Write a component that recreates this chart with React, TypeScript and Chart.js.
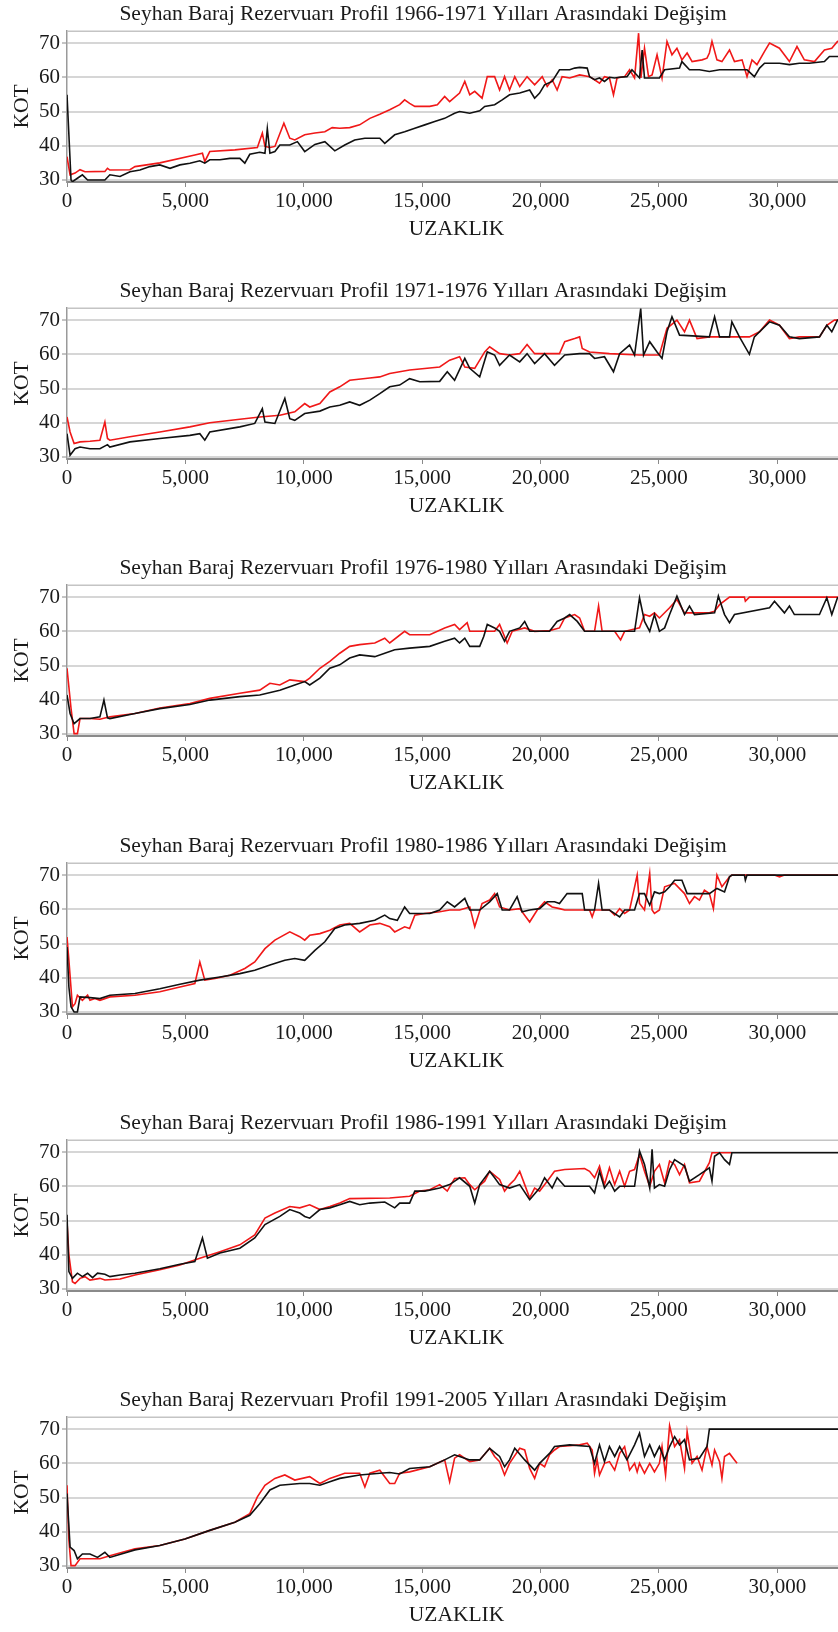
import React, { useEffect, useRef } from "react";
import { Chart, registerables } from "chart.js";

Chart.register(...registerables);

const panelTitles = [
  "Seyhan Baraj Rezervuarı Profil 1966-1971 Yılları Arasındaki Değişim",
  "Seyhan Baraj Rezervuarı Profil 1971-1976 Yılları Arasındaki Değişim",
  "Seyhan Baraj Rezervuarı Profil 1976-1980 Yılları Arasındaki Değişim",
  "Seyhan Baraj Rezervuarı Profil 1980-1986 Yılları Arasındaki Değişim",
  "Seyhan Baraj Rezervuarı Profil 1986-1991 Yılları Arasındaki Değişim",
  "Seyhan Baraj Rezervuarı Profil 1991-2005 Yılları Arasındaki Değişim",
];
const xAxisTitle = "UZAKLIK";
const yAxisTitle = "KOT";
const xTickValues = [0, 5000, 10000, 15000, 20000, 25000, 30000];
const yTickValues = [30, 40, 50, 60, 70];
const xMin = 0;
const xMax = 32900;
const yMin = 29.4;
const yMax = 73.6;

// 1966-1971
const red1 = [[0,36.8],[130,31.5],[340,32],[550,33],[760,32.4],[1600,32.5],[1710,33.4],[1810,32.9],[2660,33],[2870,33.9],[3920,35],[5400,37.3],[5720,37.8],[5820,35.4],[6030,38.3],[7090,38.8],[8040,39.5],[8250,43.7],[8360,39.8],[8570,39.5],[8780,39.8],[9160,46.6],[9410,42.2],[9620,41.7],[10040,43.2],[10470,43.7],[10890,44.1],[11200,45.3],[11520,45.1],[11940,45.3],[12360,46.1],[12790,48],[13210,49.2],[13630,50.5],[14050,52],[14260,53.4],[14470,52.4],[14690,51.5],[15320,51.5],[15640,52],[15950,54.4],[16160,52.9],[16580,55.4],[16800,58.8],[17010,54.9],[17220,55.9],[17530,53.9],[17750,60.2],[18060,60.2],[18270,56.3],[18480,60.2],[18690,56.3],[18910,60.2],[19120,57.3],[19430,60.2],[19750,57.8],[20070,60.2],[20280,57.3],[20490,59.3],[20700,56.3],[20910,60.2],[21230,59.8],[21650,60.7],[22070,60.2],[22280,59.3],[22490,58.3],[22700,60.2],[22910,59.8],[23080,54.9],[23230,59.8],[23550,60.2],[23760,62.2],[23970,59.8],[24140,72.9],[24240,59.8],[24390,68.5],[24560,60.2],[24710,60.7],[24920,66.6],[25130,59.8],[25340,70.5],[25550,66.6],[25760,68.5],[25970,65.1],[26190,67.1],[26400,64.6],[26820,65.1],[27030,65.6],[27130,67.1],[27240,70.5],[27450,65.1],[27660,64.6],[27980,68],[28190,64.6],[28510,65.1],[28720,60.2],[28930,65.1],[29140,63.7],[29460,67.6],[29670,70],[30090,68.5],[30510,64.6],[30830,69],[31140,65.1],[31570,64.6],[31990,68],[32300,68.5],[32540,70.5],[33000,69.5]];
const black1 = [[0,54.9],[170,30],[230,29.5],[440,30.5],[650,31.5],[870,30],[1600,30],[1810,31.5],[2240,31],[2660,32.4],[3080,32.9],[3500,33.9],[3920,34.4],[4350,33.4],[4770,34.4],[5190,34.9],[5610,35.6],[5820,34.9],[6030,35.9],[6460,35.9],[6880,36.3],[7300,36.3],[7510,34.9],[7720,37.5],[8140,38.1],[8360,37.8],[8460,45],[8570,37.8],[8780,38.3],[8990,40.2],[9410,40.2],[9730,41.2],[10040,38.3],[10470,40.4],[10890,41.2],[11310,38.5],[11730,40.2],[12150,41.7],[12580,42.2],[13210,42.2],[13420,40.7],[13840,43.2],[14260,44.1],[14690,45.1],[15110,46.1],[15530,47.1],[15950,48],[16370,49.5],[16580,50],[17010,49.5],[17430,50.2],[17640,51.5],[18060,52],[18380,53.4],[18690,54.9],[19120,55.4],[19540,56.3],[19750,53.9],[19960,55.4],[20170,57.8],[20490,58.8],[20800,62.2],[21230,62.2],[21440,62.7],[21650,62.9],[21970,62.7],[22070,60.2],[22280,59.3],[22490,59.8],[22700,58.8],[22910,60],[23130,59.8],[23340,60],[23650,60.2],[23860,62.2],[24180,59.8],[24290,68],[24390,59.8],[25020,59.8],[25240,62.2],[25870,62.7],[25970,64.6],[26290,62.2],[26710,62.2],[27130,61.7],[27560,62.2],[28400,62.2],[28720,62.2],[29030,60.2],[29250,62.7],[29460,64.1],[30090,64.1],[30510,63.7],[30930,64.1],[31350,64.1],[31990,64.6],[32200,66.1],[33000,66.1]];

// 1971-1976
const red2 = [[0,41.7],[130,37.3],[300,33.9],[550,34.4],[970,34.6],[1390,34.9],[1600,40.2],[1710,35.4],[1810,34.9],[2660,35.9],[3920,37.3],[5190,38.8],[6030,40],[7300,41],[8140,41.7],[8990,42.2],[9620,43.2],[10040,45.6],[10250,44.6],[10680,45.6],[11100,49],[11520,50.5],[11940,52.4],[12790,53.1],[13210,53.4],[13630,54.4],[14470,55.4],[15740,56.3],[16160,58.3],[16580,59.3],[16800,56.3],[17220,55.9],[17640,60.7],[17850,62.2],[18270,60.2],[18690,59.8],[19120,60.2],[19430,62.9],[19750,60.2],[20800,60.2],[21020,63.7],[21440,64.6],[21650,65.1],[21760,61.7],[22070,60.7],[22910,60.2],[24180,59.8],[25020,59.8],[25340,67.6],[25760,70],[26080,66.6],[26290,70],[26610,64.6],[27130,65.1],[28820,65.1],[29250,66.6],[29670,70],[30090,68.5],[30510,64.6],[30930,65.1],[31780,65.1],[32090,68.5],[32410,70],[33000,70]];
const black2 = [[0,36.8],[130,30.5],[340,32.4],[550,32.9],[970,32.4],[1390,32.4],[1710,33.6],[1810,32.9],[2660,34.4],[3920,35.4],[5190,36.3],[5610,36.8],[5820,34.9],[6030,37.3],[7300,38.8],[7930,39.8],[8250,44.1],[8360,40.2],[8780,39.8],[9200,47.1],[9410,41.2],[9620,40.7],[10040,42.7],[10680,43.4],[11100,44.6],[11520,45.1],[11940,46.1],[12360,45.1],[12790,46.6],[13210,48.5],[13630,50.5],[14050,51],[14470,52.9],[14900,52],[15740,52.1],[16060,54.9],[16370,52.4],[16800,58.8],[17010,55.9],[17430,53.4],[17750,60.7],[18060,59.8],[18270,56.8],[18690,59.8],[19120,57.8],[19430,60.2],[19750,57.3],[20170,60.2],[20590,56.8],[21020,59.8],[21650,60.2],[22070,60.2],[22280,58.8],[22700,59.3],[23080,54.9],[23340,60.2],[23760,62.7],[23970,59.8],[24230,73.4],[24350,59.8],[24610,63.7],[24920,60.7],[25130,58.8],[25340,66.6],[25550,71],[25870,65.6],[27130,65.1],[27350,71],[27560,65.1],[27980,65.1],[28080,69.5],[28400,65.1],[28820,60],[29030,65.1],[29670,69.5],[30090,68.5],[30510,65.1],[30930,64.6],[31780,65.1],[32090,68.5],[32300,66.6],[32540,70],[33000,70]];

// 1976-1980
const red3 = [[0,49.2],[170,37.5],[300,30.1],[440,30.1],[550,34.5],[970,34.5],[1390,34.3],[1810,35],[2870,36],[3920,37.6],[5190,38.9],[6030,40.4],[7300,41.9],[8140,42.8],[8570,44.8],[8990,44.3],[9410,45.8],[10040,45.3],[10250,46.3],[10680,49.2],[11100,51.2],[11520,53.6],[11940,55.6],[12360,56.1],[13000,56.6],[13420,58],[13630,56.6],[14260,60],[14470,59],[15320,59],[15950,61],[16370,62],[16580,60.5],[16900,62.5],[17010,60],[18060,60],[18270,62],[18590,56.6],[18800,60],[19330,61],[19750,60],[20380,60.2],[20800,61],[21020,63.9],[21440,64.9],[21650,63.9],[21860,60],[22280,60],[22450,67.4],[22600,60],[23130,60],[23380,57.5],[23550,60],[24180,61],[24390,64.9],[24610,64.4],[24810,65.4],[25020,63.9],[25450,66.9],[25760,69.3],[26080,65.4],[27130,65.4],[27350,65.9],[27560,67.8],[27980,70],[28610,70],[28650,68.8],[28820,70],[33000,70]];
const black3 = [[0,41.4],[130,36],[300,33],[550,34.5],[970,34.5],[1390,35],[1560,39.9],[1710,34.7],[1810,34.5],[2870,36],[3920,37.4],[5190,38.6],[6030,39.9],[7300,40.9],[8140,41.4],[8990,42.8],[9620,44.3],[10040,45.3],[10250,44.3],[10680,46.3],[11100,49.2],[11520,50.2],[11940,52.2],[12360,53.1],[13000,52.6],[13420,53.6],[13840,54.6],[14470,55.1],[15320,55.6],[15950,57.1],[16370,58],[16580,56.6],[16800,58],[17010,55.6],[17430,55.6],[17600,58.5],[17750,62],[18060,61],[18270,60],[18480,57.1],[18690,60],[19120,61],[19330,62.9],[19540,60],[20380,60],[20700,62.9],[21020,63.9],[21230,64.9],[21550,62.9],[21860,60],[23970,60],[24180,69.8],[24390,62.9],[24610,60],[24810,64.9],[25020,60],[25240,61],[25450,64.9],[25760,70.3],[26080,64.9],[26290,67.4],[26500,64.9],[27350,65.4],[27510,70.3],[27770,64.9],[27980,62.5],[28190,64.9],[29670,66.9],[29880,68.8],[30300,65.4],[30510,67.4],[30720,64.9],[31780,64.9],[32090,69.8],[32300,64.9],[32540,69.8],[33000,69.8]];

// 1980-1986
const red4 = [[0,51.9],[80,45.1],[230,31.5],[340,32.4],[440,34.9],[650,33.4],[870,34.9],[970,33.4],[1180,33.9],[1390,33.4],[1810,34.4],[2870,34.9],[3920,35.9],[4770,37.3],[5400,38.3],[5610,44.6],[5820,39.3],[6250,39.8],[6880,40.7],[7510,42.7],[7930,44.6],[8360,48.5],[8780,51],[9410,53.4],[9830,52],[10040,51],[10250,52.4],[10680,52.9],[11100,53.9],[11520,55.4],[11940,55.9],[12360,53.4],[12790,55.4],[13210,55.9],[13630,54.9],[13840,53.4],[14260,54.9],[14470,54.4],[14690,58.3],[15110,58.8],[15740,59.3],[16160,59.8],[16580,59.8],[17010,60.7],[17220,54.9],[17530,61.7],[17850,62.7],[18060,64.6],[18270,60.7],[18690,59.8],[19120,60.2],[19540,56.3],[19860,59.8],[20170,62.2],[20490,60.7],[20800,60.2],[21020,59.8],[22070,59.8],[22180,57.8],[22280,59.8],[22910,59.8],[23130,58.3],[23340,60.2],[23550,58.8],[23760,59.8],[24080,70],[24180,61.7],[24390,59.8],[24610,70.5],[24710,59.8],[24810,58.8],[25020,59.8],[25240,66.6],[25660,67.6],[26080,64.6],[26290,61.7],[26500,63.7],[26710,62.7],[26920,65.6],[27130,64.6],[27300,60.2],[27450,70],[27660,66.6],[27980,69.5],[28080,70],[29880,70],[30090,69.5],[30300,70],[33000,70]];
const black4 = [[0,49],[80,37.3],[170,31.5],[300,30],[440,30],[550,34.4],[970,34.2],[1390,33.9],[1810,34.9],[2870,35.4],[3920,36.8],[4770,38.1],[5610,39.3],[6460,40.2],[7300,41.2],[7930,42.2],[8570,43.7],[9200,45.1],[9620,45.6],[10040,45.1],[10470,48],[10890,50.5],[11310,54.4],[11730,55.4],[12360,55.9],[13000,56.8],[13420,58.3],[13630,57.3],[13950,56.8],[14260,60.7],[14470,58.8],[15320,58.8],[15740,59.8],[16060,62.2],[16370,60.7],[16800,63.2],[17010,59.8],[17430,59.8],[17850,62.2],[18170,64.6],[18380,59.8],[18690,59.8],[19010,63.7],[19220,59.3],[19540,59.8],[19960,60.2],[20280,62.2],[20590,62.2],[20800,61.7],[21120,64.6],[21760,64.6],[21860,59.8],[22280,59.8],[22450,67.6],[22600,59.8],[22910,59.8],[23340,57.8],[23550,59.8],[23970,59.8],[24180,64.6],[24390,64.6],[24610,61.2],[24810,65.1],[25020,64.6],[25240,65.1],[25450,66.6],[25660,68.5],[25970,68.5],[26190,64.6],[27130,64.6],[27450,66.1],[27770,65.1],[27980,69.5],[28080,70],[28610,70],[28650,68.5],[28720,70],[33000,70]];

// 1986-1991
const red5 = [[0,49.7],[80,40],[230,32.1],[340,31.6],[550,33.1],[760,33.6],[970,32.6],[1390,33.1],[1600,32.6],[2240,32.9],[2870,34.1],[3920,35.6],[4770,37],[5610,39],[6460,40.9],[7300,42.9],[7930,45.8],[8360,50.7],[8780,52.2],[9410,54.1],[9830,53.7],[10250,54.6],[10680,53.2],[11100,54.1],[11520,55.1],[11940,56.4],[13630,56.6],[14470,57.1],[14900,58.6],[15320,59],[15740,60.5],[16060,58.6],[16370,62.3],[16800,62.5],[17010,60.5],[17220,59],[17640,61.5],[17850,64.4],[18270,62],[18480,58.6],[18690,60.5],[18910,62],[19120,64.4],[19330,60.5],[19540,56.6],[19750,59.5],[19960,58.6],[20280,61.5],[20590,64.4],[21020,64.9],[21860,65.2],[22070,64.4],[22280,62.5],[22490,65.9],[22700,60.5],[22910,65.4],[23130,60.5],[23340,64.4],[23550,60],[23760,64.4],[23970,64.9],[24180,69.3],[24390,64.4],[24610,60],[24810,64.4],[25020,66.4],[25240,61],[25450,67.4],[25660,66.4],[25870,63.4],[26080,66.4],[26290,61],[26710,61.5],[27130,66.9],[27240,69.8],[28080,69.8]];
const black5 = [[0,51.7],[80,35.1],[230,33.1],[440,34.6],[650,33.6],[870,34.6],[1080,33.3],[1290,34.6],[1600,34.3],[1810,33.6],[2240,34.1],[2870,34.6],[3920,35.9],[4770,37.2],[5400,38],[5720,44.9],[5930,39],[6460,40.5],[7300,41.9],[7930,44.9],[8360,48.8],[8990,51.2],[9410,53.2],[9830,52.2],[10040,51.2],[10250,50.7],[10680,53.2],[11100,53.7],[11520,54.6],[11940,55.6],[12360,54.6],[12790,55.1],[13420,55.4],[13840,53.7],[14050,55.1],[14470,55.1],[14690,58.6],[15110,58.6],[15740,59.5],[16160,60.5],[16580,62.5],[17010,60],[17220,55.1],[17430,60.5],[17850,64.4],[18060,62.5],[18270,60.5],[18690,59.5],[19120,60.5],[19540,56.1],[19960,59.5],[20170,62.5],[20490,59.5],[20700,62.5],[21020,60],[22070,60],[22280,58.1],[22490,64.4],[22700,59.5],[22910,61.5],[23130,58.6],[23340,60],[23970,60],[24180,70.3],[24390,66.4],[24610,59.5],[24710,70.8],[24810,59.5],[25020,60.5],[25240,60],[25450,64.9],[25660,67.8],[26080,65.9],[26290,61.5],[26710,63.4],[27130,65.4],[27240,61.5],[27350,68.8],[27560,69.8],[27770,67.8],[27980,66.4],[28080,69.8],[33000,69.8]];

// 1991-2005
const red6 = [[0,53.6],[80,37.5],[170,30.1],[340,30.1],[550,32.1],[1390,32.1],[1810,33],[2870,35],[3920,36],[4980,37.9],[6030,40.4],[7090,42.8],[7720,45.3],[8040,50.2],[8360,53.6],[8780,55.6],[9200,56.6],[9620,55.1],[10250,56.1],[10680,54.1],[11100,55.6],[11730,57.1],[12360,57.1],[12580,53.1],[12790,57.1],[13210,58],[13630,54.1],[13840,54.1],[14050,57.1],[14470,57.5],[15320,59],[15950,61],[16160,54.6],[16370,61.5],[16580,62.5],[17010,60.5],[17430,61],[17850,64.4],[18060,62],[18270,60.5],[18480,56.6],[18690,60],[19120,64.4],[19330,63.9],[19540,58.5],[19750,55.6],[19960,60],[20170,59],[20380,62.5],[20590,63.9],[20800,64.9],[21650,65.4],[21970,65.9],[22180,63.9],[22280,57.1],[22390,61],[22490,56.6],[22700,60],[22910,60.5],[23130,58],[23340,62.9],[23550,64.9],[23760,58],[23970,60],[24080,57.5],[24180,60],[24390,57.1],[24610,60],[24810,57.5],[25020,60],[25130,64.9],[25280,56.6],[25450,71],[25660,64.9],[25870,66.9],[26080,58.5],[26190,69.3],[26400,60],[26610,62],[26820,58],[27030,64.9],[27240,59.5],[27350,63.9],[27560,60.5],[27660,55.6],[27770,62],[27980,62.9],[28190,61],[28300,60]];
const black6 = [[0,51.2],[130,35.5],[300,34.5],[440,32.1],[650,33.5],[970,33.5],[1290,32.5],[1600,34],[1810,32.5],[2870,34.7],[3920,36],[4980,37.9],[6030,40.4],[7090,42.8],[7720,44.8],[8140,48.2],[8570,52.2],[8990,53.6],[9830,54.1],[10250,54.1],[10680,53.6],[11100,54.6],[11520,55.6],[12360,56.6],[13210,57.1],[13630,57.3],[14050,56.9],[14470,58.5],[15320,59],[15950,61],[16370,62.5],[16580,62],[17010,61],[17430,61],[17850,64.4],[18270,62],[18480,59],[18690,61],[18910,64.4],[19330,61],[19750,58],[19960,60],[20380,62.9],[20590,64.9],[21230,65.4],[22070,64.9],[22280,60],[22490,65.4],[22700,60.5],[22910,64.9],[23130,62],[23340,64.9],[23650,61],[23970,65.4],[24180,68.8],[24390,62],[24610,65.4],[24810,62],[25020,64.9],[25240,61],[25450,64.9],[25660,67.8],[25870,65.4],[26080,66.9],[26290,61],[26710,61.5],[27030,64.9],[27130,70],[33000,70]];

const panelSeries = [
  [red1, black1],
  [red2, black2],
  [red3, black3],
  [red4, black4],
  [red5, black5],
  [red6, black6],
];

const FONT = '"Liberation Serif", "Times New Roman", serif';
const TEXT = "#1a1a1a";
const PANEL_STEP = 277.2;
const CANVAS_W = 846;
const CANVAS_H = 246;
const TITLE_SIZE = 21.5;
const TICK_SIZE = 21;
const AXIS_TITLE_SIZE = 21.5;

const topBorder = {
  id: "topBorder",
  beforeDatasetsDraw(chart: any) {
    const { ctx, chartArea } = chart;
    ctx.save();
    ctx.strokeStyle = "#c4c4c4";
    ctx.lineWidth = 1.5;
    ctx.beginPath();
    ctx.moveTo(chartArea.left, chartArea.top + 0.5);
    ctx.lineTo(chartArea.right, chartArea.top + 0.5);
    ctx.stroke();
    ctx.restore();
  },
};

function toPoints(arr: number[][]) {
  return arr.map(([x, y]) => ({ x, y }));
}

function Panel({ title, red, black }: { title: string; red: number[][]; black: number[][] }) {
  const ref = useRef<HTMLCanvasElement | null>(null);
  useEffect(() => {
    const chart = new Chart(ref.current as HTMLCanvasElement, {
      type: "line",
      data: {
        datasets: [
          {
            label: "black",
            data: toPoints(black),
            borderColor: "#111111",
            borderWidth: 1.6,
            pointRadius: 0,
            tension: 0,
            fill: false,
          },
          {
            label: "red",
            data: toPoints(red),
            borderColor: "#f01818",
            borderWidth: 1.6,
            pointRadius: 0,
            tension: 0,
            fill: false,
          },
        ],
      },
      options: {
        responsive: false,
        animation: false,
        devicePixelRatio: 1,
        events: [],
        layout: { padding: 0 },
        plugins: {
          legend: { display: false },
          tooltip: { enabled: false },
          title: {
            display: true,
            text: title,
            color: TEXT,
            font: { family: FONT, size: TITLE_SIZE, weight: "normal", lineHeight: 1.2 },
            padding: { top: 1, bottom: 4 },
          },
        },
        scales: {
          x: {
            type: "linear",
            min: xMin,
            max: xMax,
            afterBuildTicks: (s: any) => {
              s.ticks = xTickValues.map((v) => ({ value: v }));
            },
            afterFit: (s: any) => {
              s.height = 64;
            },
            grid: {
              drawOnChartArea: false,
              drawTicks: true,
              tickLength: 5,
              color: "#8a8a8a",
              lineWidth: 1,
            },
            border: { display: true, color: "#8a8a8a", width: 2 },
            ticks: {
              color: TEXT,
              font: { family: FONT, size: TICK_SIZE, lineHeight: 1.2 },
              padding: 2,
              maxRotation: 0,
              autoSkip: false,
              callback: (v: any) => Number(v).toLocaleString("en-US"),
            },
            title: {
              display: true,
              text: xAxisTitle,
              color: TEXT,
              font: { family: FONT, size: AXIS_TITLE_SIZE, lineHeight: 1.2 },
              padding: { top: 0, bottom: 4 },
            },
          },
          y: {
            type: "linear",
            min: yMin,
            max: yMax,
            afterBuildTicks: (s: any) => {
              s.ticks = yTickValues.map((v) => ({ value: v }));
            },
            afterFit: (s: any) => {
              s.width = 67;
            },
            grid: {
              drawOnChartArea: true,
              drawTicks: true,
              tickLength: 5,
              color: "#d6d6d6",
              lineWidth: 2,
              tickColor: "#8a8a8a",
              tickWidth: 1,
            },
            border: { display: true, color: "#9a9a9a", width: 1.5 },
            ticks: {
              color: TEXT,
              font: { family: FONT, size: TICK_SIZE, lineHeight: 1.2 },
              padding: 2,
              autoSkip: false,
            },
            title: {
              display: true,
              text: yAxisTitle,
              color: TEXT,
              font: { family: FONT, size: AXIS_TITLE_SIZE, lineHeight: 1.2 },
              padding: { top: 9, bottom: 0 },
            },
          },
        },
      },
      plugins: [topBorder],
    } as any);
    return () => chart.destroy();
  }, [title, red, black]);
  return (
    <canvas
      ref={ref}
      width={CANVAS_W}
      height={CANVAS_H}
      style={{ display: "block", width: CANVAS_W, height: CANVAS_H }}
    />
  );
}

export default function App() {
  return (
    <div
      style={{
        position: "absolute",
        left: 0,
        top: 0,
        width: 838,
        height: 1632,
        overflow: "hidden",
        background: "#ffffff",
      }}
    >
      {panelTitles.map((t, i) => (
        <div
          key={t}
          style={{
            position: "absolute",
            left: 0,
            top: Math.round(i * PANEL_STEP),
            width: CANVAS_W,
            height: CANVAS_H,
          }}
        >
          <Panel title={t} red={panelSeries[i][0]} black={panelSeries[i][1]} />
        </div>
      ))}
    </div>
  );
}
